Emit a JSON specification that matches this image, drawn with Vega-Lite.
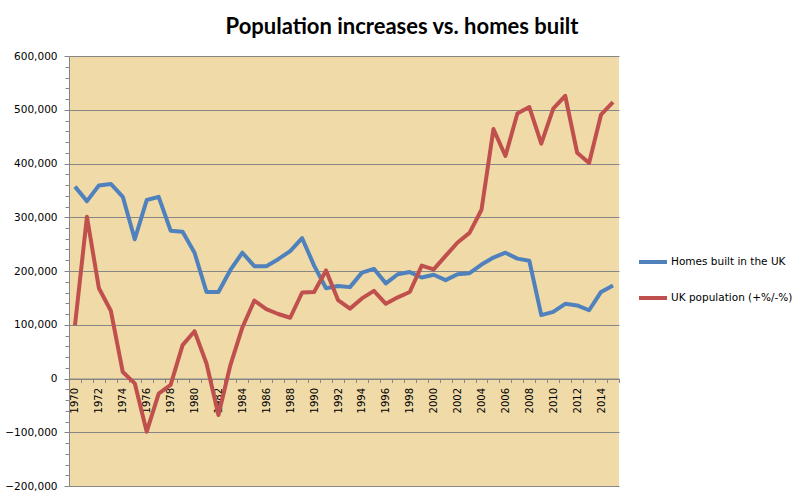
{
  "$schema": "https://vega.github.io/schema/vega-lite/v6.json",
  "width": 550,
  "height": 430,
  "autosize": {"type": "none"},
  "padding": {"left": 69, "top": 56, "right": 187, "bottom": 16},
  "background": "#ffffff",
  "title": {
    "text": "Population increases vs. homes built",
    "font": "Lato",
    "fontSize": 22,
    "fontWeight": "bold",
    "color": "#000000",
    "anchor": "middle",
    "frame": "group",
    "dx": 58,
    "offset": 12
  },
  "config": {
    "view": {"stroke": null, "fill": "#F0DBA8"},
    "font": "DejaVu Sans"
  },
  "data": {
    "values": [
      {"year": 1970, "series": "Homes built in the UK", "value": 357000},
      {"year": 1971, "series": "Homes built in the UK", "value": 330000},
      {"year": 1972, "series": "Homes built in the UK", "value": 359000},
      {"year": 1973, "series": "Homes built in the UK", "value": 362000},
      {"year": 1974, "series": "Homes built in the UK", "value": 338000},
      {"year": 1975, "series": "Homes built in the UK", "value": 259000},
      {"year": 1976, "series": "Homes built in the UK", "value": 332000},
      {"year": 1977, "series": "Homes built in the UK", "value": 338000},
      {"year": 1978, "series": "Homes built in the UK", "value": 275000},
      {"year": 1979, "series": "Homes built in the UK", "value": 273000},
      {"year": 1980, "series": "Homes built in the UK", "value": 234000},
      {"year": 1981, "series": "Homes built in the UK", "value": 161000},
      {"year": 1982, "series": "Homes built in the UK", "value": 161000},
      {"year": 1983, "series": "Homes built in the UK", "value": 202000},
      {"year": 1984, "series": "Homes built in the UK", "value": 234000},
      {"year": 1985, "series": "Homes built in the UK", "value": 209000},
      {"year": 1986, "series": "Homes built in the UK", "value": 209000},
      {"year": 1987, "series": "Homes built in the UK", "value": 222000},
      {"year": 1988, "series": "Homes built in the UK", "value": 237000},
      {"year": 1989, "series": "Homes built in the UK", "value": 261000},
      {"year": 1990, "series": "Homes built in the UK", "value": 210000},
      {"year": 1991, "series": "Homes built in the UK", "value": 168000},
      {"year": 1992, "series": "Homes built in the UK", "value": 172000},
      {"year": 1993, "series": "Homes built in the UK", "value": 170000},
      {"year": 1994, "series": "Homes built in the UK", "value": 197000},
      {"year": 1995, "series": "Homes built in the UK", "value": 204000},
      {"year": 1996, "series": "Homes built in the UK", "value": 177000},
      {"year": 1997, "series": "Homes built in the UK", "value": 194000},
      {"year": 1998, "series": "Homes built in the UK", "value": 198000},
      {"year": 1999, "series": "Homes built in the UK", "value": 188000},
      {"year": 2000, "series": "Homes built in the UK", "value": 193000},
      {"year": 2001, "series": "Homes built in the UK", "value": 183000},
      {"year": 2002, "series": "Homes built in the UK", "value": 194000},
      {"year": 2003, "series": "Homes built in the UK", "value": 196000},
      {"year": 2004, "series": "Homes built in the UK", "value": 212000},
      {"year": 2005, "series": "Homes built in the UK", "value": 225000},
      {"year": 2006, "series": "Homes built in the UK", "value": 234000},
      {"year": 2007, "series": "Homes built in the UK", "value": 223000},
      {"year": 2008, "series": "Homes built in the UK", "value": 219000},
      {"year": 2009, "series": "Homes built in the UK", "value": 118000},
      {"year": 2010, "series": "Homes built in the UK", "value": 124000},
      {"year": 2011, "series": "Homes built in the UK", "value": 139000},
      {"year": 2012, "series": "Homes built in the UK", "value": 136000},
      {"year": 2013, "series": "Homes built in the UK", "value": 127000},
      {"year": 2014, "series": "Homes built in the UK", "value": 161000},
      {"year": 2015, "series": "Homes built in the UK", "value": 173000},
      {"year": 1970, "series": "UK population (+%/-%)", "value": 99000},
      {"year": 1971, "series": "UK population (+%/-%)", "value": 301000},
      {"year": 1972, "series": "UK population (+%/-%)", "value": 168000},
      {"year": 1973, "series": "UK population (+%/-%)", "value": 126000},
      {"year": 1974, "series": "UK population (+%/-%)", "value": 12000},
      {"year": 1975, "series": "UK population (+%/-%)", "value": -9000},
      {"year": 1976, "series": "UK population (+%/-%)", "value": -99000},
      {"year": 1977, "series": "UK population (+%/-%)", "value": -28000},
      {"year": 1978, "series": "UK population (+%/-%)", "value": -12000},
      {"year": 1979, "series": "UK population (+%/-%)", "value": 62000},
      {"year": 1980, "series": "UK population (+%/-%)", "value": 88000},
      {"year": 1981, "series": "UK population (+%/-%)", "value": 28000},
      {"year": 1982, "series": "UK population (+%/-%)", "value": -68000},
      {"year": 1983, "series": "UK population (+%/-%)", "value": 25000},
      {"year": 1984, "series": "UK population (+%/-%)", "value": 95000},
      {"year": 1985, "series": "UK population (+%/-%)", "value": 145000},
      {"year": 1986, "series": "UK population (+%/-%)", "value": 129000},
      {"year": 1987, "series": "UK population (+%/-%)", "value": 120000},
      {"year": 1988, "series": "UK population (+%/-%)", "value": 113000},
      {"year": 1989, "series": "UK population (+%/-%)", "value": 160000},
      {"year": 1990, "series": "UK population (+%/-%)", "value": 161000},
      {"year": 1991, "series": "UK population (+%/-%)", "value": 201000},
      {"year": 1992, "series": "UK population (+%/-%)", "value": 146000},
      {"year": 1993, "series": "UK population (+%/-%)", "value": 130000},
      {"year": 1994, "series": "UK population (+%/-%)", "value": 149000},
      {"year": 1995, "series": "UK population (+%/-%)", "value": 163000},
      {"year": 1996, "series": "UK population (+%/-%)", "value": 139000},
      {"year": 1997, "series": "UK population (+%/-%)", "value": 151000},
      {"year": 1998, "series": "UK population (+%/-%)", "value": 161000},
      {"year": 1999, "series": "UK population (+%/-%)", "value": 210000},
      {"year": 2000, "series": "UK population (+%/-%)", "value": 203000},
      {"year": 2001, "series": "UK population (+%/-%)", "value": 228000},
      {"year": 2002, "series": "UK population (+%/-%)", "value": 253000},
      {"year": 2003, "series": "UK population (+%/-%)", "value": 271000},
      {"year": 2004, "series": "UK population (+%/-%)", "value": 314000},
      {"year": 2005, "series": "UK population (+%/-%)", "value": 464000},
      {"year": 2006, "series": "UK population (+%/-%)", "value": 414000},
      {"year": 2007, "series": "UK population (+%/-%)", "value": 493000},
      {"year": 2008, "series": "UK population (+%/-%)", "value": 505000},
      {"year": 2009, "series": "UK population (+%/-%)", "value": 437000},
      {"year": 2010, "series": "UK population (+%/-%)", "value": 502000},
      {"year": 2011, "series": "UK population (+%/-%)", "value": 526000},
      {"year": 2012, "series": "UK population (+%/-%)", "value": 420000},
      {"year": 2013, "series": "UK population (+%/-%)", "value": 401000},
      {"year": 2014, "series": "UK population (+%/-%)", "value": 491000},
      {"year": 2015, "series": "UK population (+%/-%)", "value": 514000}
    ]
  },
  "encoding": {
    "x": {
      "field": "year",
      "type": "ordinal",
      "bandPosition": 0.5,
      "scale": {"type": "band", "paddingInner": 0, "paddingOuter": 0},
      "axis": {
        "title": null,
        "offset": -107.5,
        "tickBand": "extent",
        "labelExpr": "datum.value % 2 === 0 ? datum.label : ''",
        "labelAngle": 270,
        "labelAlign": "right",
        "labelBaseline": "middle",
        "labelFont": "DejaVu Sans",
        "labelFontSize": 10,
        "labelColor": "#000000",
        "labelPadding": 5,
        "tickSize": 4,
        "tickColor": "#868686",
        "domainColor": "#868686",
        "labelOverlap": false,
        "grid": false
      }
    },
    "color": {
      "field": "series",
      "type": "nominal",
      "scale": {
        "domain": ["Homes built in the UK", "UK population (+%/-%)"],
        "range": ["#4F81BD", "#C0504D"]
      },
      "legend": {
        "title": null,
        "orient": "none",
        "legendX": 568,
        "legendY": 190,
        "symbolType": "stroke",
        "symbolSize": 784,
        "symbolStrokeWidth": 4,
        "labelFont": "DejaVu Sans",
        "labelFontSize": 10.5,
        "labelColor": "#000000",
        "labelOffset": 2,
        "rowPadding": 12
      }
    }
  },
  "layer": [
    {
      "transform": [{"filter": "datum.series === 'Homes built in the UK'"}],
      "mark": {"type": "line", "strokeWidth": 4, "strokeJoin": "round"},
      "encoding": {
        "y": {
          "field": "value",
          "type": "quantitative",
          "scale": {"domain": [-200000, 600000], "nice": false, "zero": false},
          "axis": {
            "title": null,
            "orient": "left",
            "values": [-200000, -100000, 0, 100000, 200000, 300000, 400000, 500000, 600000],
            "format": ",.0f",
            "grid": true,
            "gridColor": "#868686",
            "gridWidth": 1,
            "gridOpacity": 1,
            "domainColor": "#868686",
            "tickColor": "#868686",
            "tickSize": 5,
            "labelPadding": 7,
            "labelFont": "DejaVu Sans",
            "labelFontSize": 10.5,
            "labelColor": "#000000"
          }
        }
      }
    },
    {
      "transform": [{"filter": "datum.series === 'UK population (+%/-%)'"}],
      "mark": {"type": "line", "strokeWidth": 4, "strokeJoin": "round"},
      "encoding": {
        "y": {
          "field": "value",
          "type": "quantitative",
          "axis": {
            "title": null,
            "orient": "left",
            "values": [-180000, -160000, -140000, -120000, -80000, -60000, -40000, -20000, 20000, 40000, 60000, 80000, 120000, 140000, 160000, 180000, 220000, 240000, 260000, 280000, 320000, 340000, 360000, 380000, 420000, 440000, 460000, 480000, 520000, 540000, 560000, 580000],
            "labels": false,
            "grid": false,
            "domain": false,
            "tickColor": "#868686",
            "tickSize": 4
          }
        }
      }
    }
  ],
  "resolve": {"axis": {"y": "independent"}}
}
